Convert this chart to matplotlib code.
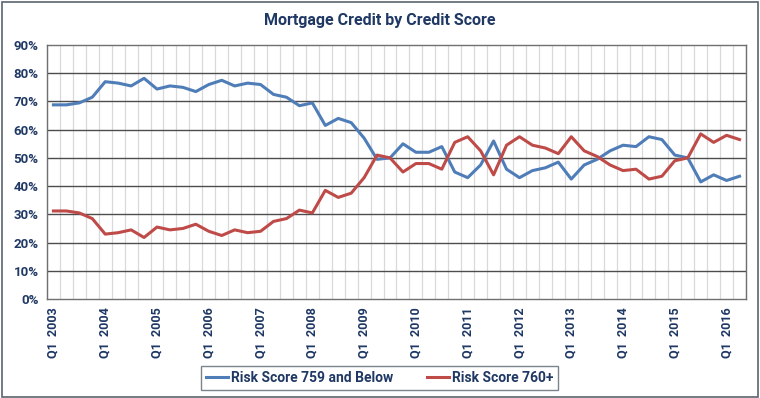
import matplotlib
matplotlib.use("Agg")
import matplotlib.pyplot as plt
from matplotlib.patches import Rectangle
import numpy as np

plt.rcParams['font.family'] = ['Roboto', 'DejaVu Sans']

years = list(range(2003, 2017))
quarters = [f"Q{q} {y}" for y in years for q in range(1, 5)][:54]
tick_labels = [f"Q1  {y}" for y in years]

below_759 = [68.8, 68.8, 69.5, 71.5, 77.0, 76.5, 75.5, 78.2, 74.4, 75.5, 75.0, 73.5,
             76.0, 77.5, 75.5, 76.5, 76.0, 72.5, 71.5, 68.5, 69.5, 61.5, 64.0, 62.5,
             57.0, 49.5, 50.0, 55.0, 52.0, 52.0, 54.0, 45.0, 43.0, 47.5, 56.0, 46.0,
             43.0, 45.5, 46.5, 48.5, 42.5, 47.5, 49.5, 52.5, 54.5, 54.0, 57.5, 56.5,
             51.0, 50.0, 41.5, 44.0, 42.0, 43.5]
above_760 = [31.2, 31.2, 30.5, 28.5, 23.0, 23.5, 24.5, 21.8, 25.5, 24.5, 25.0, 26.5,
             24.0, 22.5, 24.5, 23.5, 24.0, 27.5, 28.5, 31.5, 30.5, 38.5, 36.0, 37.5,
             43.0, 51.0, 50.0, 45.0, 48.0, 48.0, 46.0, 55.5, 57.5, 52.5, 44.0, 54.5,
             57.5, 54.5, 53.5, 51.5, 57.5, 52.5, 50.5, 47.5, 45.5, 46.0, 42.5, 43.5,
             49.0, 50.0, 58.5, 55.5, 58.0, 56.5]

navy = '#1F3864'
blue = '#4F7DB8'
red = '#BE4B48'

fig = plt.figure(figsize=(7.6, 3.98), dpi=100)
fig.patch.set_facecolor('white')
fig.add_artist(Rectangle((0.002, 0.003), 0.995, 0.993, transform=fig.transFigure,
                         fill=False, edgecolor='#5a6570', linewidth=1.2))

ax = fig.add_axes([0.0618, 0.2487, 0.9198, 0.6382])
x = np.arange(len(quarters))
ax.plot(x, below_759, color=blue, lw=2.2, label='Risk Score 759 and Below', zorder=3)
ax.plot(x, above_760, color=red, lw=2.2, label='Risk Score 760+', zorder=3)

ax.set_xlim(-0.5, len(quarters) - 0.5)
ax.set_ylim(0, 90)
for b in np.arange(-0.5, len(quarters) + 0.5, 1):
    ax.axvline(b, color='#d9d9d9', lw=0.9, zorder=1)
for v in range(10, 90, 10):
    ax.axhline(v, color='#4d4d4d', lw=1.0, zorder=2)

ax.set_yticks(range(0, 91, 10))
ax.set_yticklabels([f"{v}%" for v in range(0, 91, 10)], fontsize=9.5, fontweight='bold', color=navy)
tick_pos = [quarters.index(f"Q1 {y}") for y in years]
ax.set_xticks(tick_pos)
ax.set_xticklabels(tick_labels, rotation=90, fontsize=9, fontweight='bold', color=navy)
ax.tick_params(length=0, pad=6)
for s in ax.spines.values():
    s.set_color('#707070')
    s.set_linewidth(1.0)

fig.text(0.5, 0.948, 'Mortgage Credit by Credit Score', ha='center', va='center',
         fontsize=11.5, fontweight='bold', color=navy)

leg = fig.legend(loc='center', bbox_to_anchor=(0.4995, 0.0505), ncol=2, frameon=True,
                 fancybox=False, edgecolor='#5a6570', handlelength=1.6,
                 handletextpad=0.2, columnspacing=2.4, borderpad=0.35,
                 prop={'family': ['Roboto'], 'weight': 'bold', 'size': 10})
for t in leg.get_texts():
    t.set_color(navy)

fig.savefig('out.png', dpi=100)
